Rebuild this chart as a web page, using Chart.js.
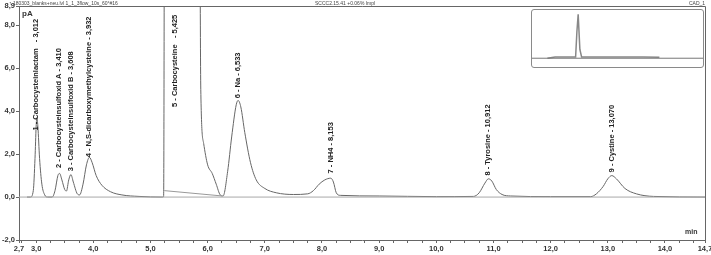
<!DOCTYPE html>
<html>
<head>
<meta charset="utf-8">
<script src="https://cdn.jsdelivr.net/npm/chart.js@4.4.1/dist/chart.umd.min.js"></script>
<style>
body { margin: 0; background: #fff; }
#wrap { position: relative; width: 711px; height: 255px; }
#ctx { position: absolute; left: 0; top: 0; }
#inset { position: absolute; left: 531px; top: 9px; width: 171px; height: 57px; border: 1px solid #8a8a8a; border-radius: 3px; background: #fff; }
.t { position: absolute; font-family: "Liberation Sans", Arial, sans-serif; color: #444; white-space: nowrap; }
</style>
</head>
<body>
<div id="wrap">
  <canvas id="ctx" width="711" height="255"></canvas>
  <div class="t" style="left:9px;top:0px;font-size:5px;">&#8593; 180303_blanks+neu.lvl 1_1_3flow_10s_60°#16</div>
  <div class="t" style="left:315px;top:0px;font-size:5px;">SCCC2.15.41 +0.06% Impl</div>
  <div class="t" style="left:689px;top:0px;font-size:5px;">CAD_1</div>
  <div class="t" style="left:22px;top:9px;font-size:8px;font-weight:bold;color:#333;">pA</div>
  <div class="t" style="left:685px;top:228px;font-size:7px;font-weight:bold;color:#333;">min</div>
  <div id="inset"><canvas id="insetCtx" width="171" height="57"></canvas></div>
</div>
<script>
// tick labels
var xTickLabels = [2.7, 3, 4, 5, 6, 7, 8, 9, 10, 11, 12, 13, 14, 14.7];
var yTickLabels = [-2, 0, 2, 4, 6, 8, 8.9];

// detector signal (min, pA)
var sigTimes = [2.84, 2.9, 2.95, 2.98, 3.0, 3.012, 3.03, 3.06, 3.1, 3.15, 3.2, 3.28, 3.33, 3.38, 3.41, 3.45, 3.5, 3.53,
  3.57, 3.608, 3.65, 3.72, 3.76, 3.82, 3.88, 3.932, 3.98, 4.05, 4.15, 4.3, 4.5, 4.8, 5.2, 5.23, 5.25, 5.85, 5.88, 5.93,
  6.0, 6.08, 6.15, 6.22, 6.27, 6.35, 6.42, 6.5, 6.533, 6.58, 6.65, 6.75, 6.85, 7.0, 7.2, 7.5, 7.75, 7.85, 7.95, 8.05,
  8.153, 8.2, 8.25, 8.32, 9.0, 10.0, 10.65, 10.75, 10.85, 10.912, 10.97, 11.05, 11.15, 11.3, 12.0, 12.7, 12.8, 12.92,
  13.0, 13.07, 13.15, 13.3, 13.5, 13.8, 14.7];
var sigValues = [0.0, 0.0, 0.3, 1.8, 3.3, 3.7, 3.3, 1.8, 0.6, 0.1, 0.0, 0.0, 0.3, 1.0, 1.1, 0.8, 0.35, 0.28,
  0.8, 1.05, 0.7, 0.15, 0.1, 0.6, 1.5, 1.85, 1.6, 1.0, 0.55, 0.25, 0.1, 0.03, 0.0, 0.02, 20, 20, 5, 2.5,
  1.5, 1.1, 0.6, 0.1, 0.05, 1.2, 2.8, 4.3, 4.5, 4.2, 3.0, 1.6, 0.8, 0.4, 0.2, 0.12, 0.15, 0.3, 0.6, 0.8,
  0.88, 0.7, 0.2, 0.08, 0.05, 0.02, 0.03, 0.2, 0.65, 0.85, 0.75, 0.35, 0.12, 0.05, 0.02, 0.02, 0.15, 0.5,
  0.85, 1.0, 0.85, 0.4, 0.15, 0.03, 0.0];

// zero line and integration baseline of peak 5
var zeroTimes = [2.7, 14.7];
var zeroValues = [0, 0];
var p5BaseTimes = [5.24, 6.26];
var p5BaseValues = [0.3, 0.05];

// peak annotations
var peakNames = ["1 - Carbocysteinlactam   - 3,012", "2 - Carbocysteinsulfoxid A - 3,410", "3 - Carbocysteinsulfoxid B - 3,608",
  "4 - N,S-dicarboxymethylcysteine - 3,932", "5 - Carbocysteine   - 5,425", "6 - Na - 6,533", "7 - NH4 - 8,153",
  "8 - Tyrosine - 10,912", "9 - Cystine - 13,070"];
var peakLabelTimes = [3.0, 3.4, 3.6, 3.93, 5.42, 6.53, 8.15, 10.91, 13.07];
var peakLabelValues = [3.1, 1.35, 1.2, 1.85, 4.2, 4.6, 1.1, 1.0, 1.15];

// overview inset
var insetTimes = [1.8, 2.7, 3.5, 5.1, 5.25, 5.4, 5.6, 5.8, 8.0, 11.0, 13.0, 14.9];
var insetValues = [0.0, 0.03, 0.03, 0.03, 0.6, 1.0, 0.2, 0.03, 0.03, 0.03, 0.03, 0.02];
var insetZeroTimes = [0, 20];
var insetZeroValues = [0, 0];

function pts(xs, ys) {
  return xs.map(function (x, i) { return { x: x, y: ys[i] }; });
}

function fmt(v) {
  return v.toFixed(1).replace('.', ',');
}

var xAllTicks = [2.7];
for (var q = 2.75; q <= 14.7; q += 0.25) xAllTicks.push(Math.round(q * 100) / 100);
xAllTicks.push(14.7);

var peakLabels = {
  id: 'peakLabels',
  afterDatasetsDraw: function (chart) {
    var c = chart.ctx;
    var xs = chart.scales.x, ys = chart.scales.y;
    c.save();
    c.fillStyle = '#222';
    c.font = 'bold 7.5px "Liberation Sans", Arial, sans-serif';
    c.textAlign = 'left';
    c.textBaseline = 'middle';
    for (var i = 0; i < peakNames.length; i++) {
      c.save();
      c.translate(xs.getPixelForValue(peakLabelTimes[i]), ys.getPixelForValue(peakLabelValues[i]));
      c.rotate(-Math.PI / 2);
      c.fillText(peakNames[i], 0, 0);
      c.restore();
    }
    // frame top / right
    var a = chart.chartArea;
    c.strokeStyle = '#666';
    c.lineWidth = 1;
    c.beginPath();
    c.moveTo(a.left, a.top + 0.5);
    c.lineTo(a.right + 0.5, a.top + 0.5);
    c.lineTo(a.right + 0.5, a.bottom);
    c.stroke();
    c.restore();
  }
};

var chart = new Chart(document.getElementById('ctx'), {
  type: 'line',
  data: {
    datasets: [
      { data: pts(zeroTimes, zeroValues), borderColor: '#a8a8a8', borderWidth: 1, pointRadius: 0 },
      { data: pts(p5BaseTimes, p5BaseValues), borderColor: '#999', borderWidth: 1, pointRadius: 0 },
      { data: pts(sigTimes, sigValues), borderColor: '#666', borderWidth: 1, pointRadius: 0, cubicInterpolationMode: 'monotone' }
    ]
  },
  options: {
    responsive: false,
    animation: false,
    devicePixelRatio: 1,
    layout: { padding: { top: 6, right: 6, left: 0, bottom: 0 } },
    plugins: { legend: { display: false }, tooltip: { enabled: false } },
    scales: {
      x: {
        type: 'linear', min: 2.7, max: 14.7,
        afterBuildTicks: function (s) { s.ticks = xAllTicks.map(function (v) { return { value: v }; }); },
        afterFit: function (s) { s.height = 15; s.paddingLeft = 0; s.paddingRight = 0; },
        ticks: {
          autoSkip: false, maxRotation: 0, padding: 1, color: '#333',
          font: { family: 'Liberation Sans', size: 7.5, weight: 'bold' },
          callback: function (v) { return xTickLabels.indexOf(v) >= 0 ? fmt(v) : ''; }
        },
        grid: { drawOnChartArea: false, tickLength: 3, color: '#666' },
        border: { color: '#666' }
      },
      y: {
        min: -2, max: 8.9,
        afterBuildTicks: function (s) { s.ticks = yTickLabels.map(function (v) { return { value: v }; }); },
        afterFit: function (s) { s.width = 19; },
        ticks: {
          autoSkip: false, padding: 1, color: '#333',
          font: { family: 'Liberation Sans', size: 7.5, weight: 'bold' },
          callback: function (v) { return fmt(v); }
        },
        grid: { drawOnChartArea: false, tickLength: 3, color: '#666' },
        border: { color: '#666' }
      }
    }
  },
  plugins: [peakLabels]
});

var insetChart = new Chart(document.getElementById('insetCtx'), {
  type: 'line',
  data: {
    datasets: [
      { data: pts(insetZeroTimes, insetZeroValues), borderColor: '#777', borderWidth: 1, pointRadius: 0 },
      { data: pts(insetTimes, insetValues), borderColor: '#888', borderWidth: 1.5, pointRadius: 0 }
    ]
  },
  options: {
    responsive: false,
    animation: false,
    devicePixelRatio: 1,
    layout: { padding: 0 },
    plugins: { legend: { display: false }, tooltip: { enabled: false } },
    scales: {
      x: { type: 'linear', min: 0, max: 20, display: false },
      y: { min: -0.2, max: 1.1, display: false }
    }
  }
});
</script>
</body>
</html>
